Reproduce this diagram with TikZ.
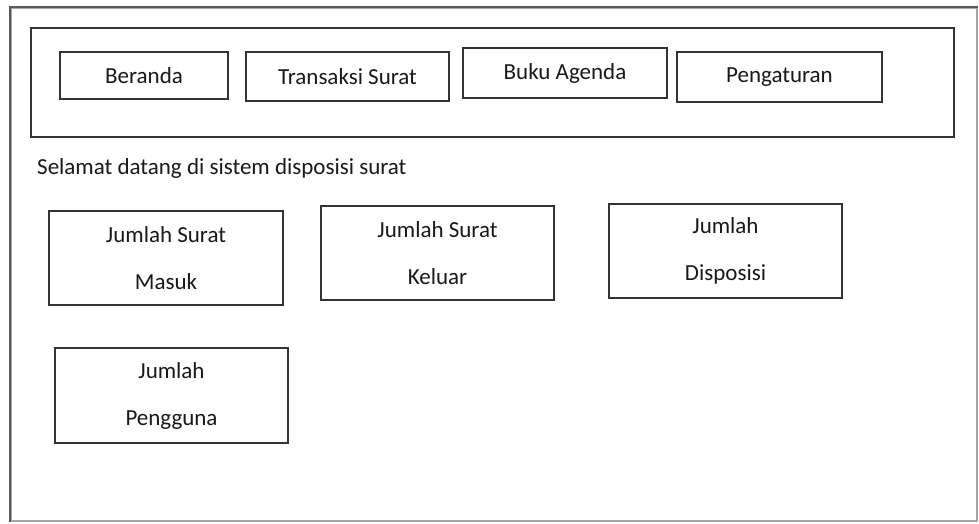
\documentclass[tikz,border=0pt]{standalone}
\usepackage{fontspec}
\setmainfont{Carlito}
\begin{document}
\begin{tikzpicture}[x=1pt,y=-1pt,
  every node/.style={inner sep=0pt, text=black!90},
  uifont/.style={font=\fontsize{23}{47}\selectfont},
  panel/.style={draw=black!80, line width=1.8pt, fill=white},
  button/.style={panel, uifont, align=center},
  card/.style={panel, uifont, align=center}]
  \useasboundingbox (0,0) rectangle (979,523);
  % outer screen frame: lighter on the right and bottom edges
  \node[draw=black!35, line width=1.6pt, minimum width=966pt, minimum height=513pt]
    (screen) at (494,264.5) {};
  \draw[black!65, line width=1.8pt] (screen.south west) -- (screen.north west) -- (screen.north east);
  % menu bar
  \node[panel, minimum width=923pt, minimum height=109pt] (menubar) at (492.5,82.5) {};
  \node[button, minimum width=168pt, minimum height=47pt] (beranda) at (144,75.5) {Beranda};
  \node[button, minimum width=203pt, minimum height=49pt] (transaksi) at (347.5,76.5) {Transaksi Surat};
  \node[button, minimum width=204pt, minimum height=50pt] (agenda) at (565,73) {Buku Agenda};
  \node[button, minimum width=205pt, minimum height=50pt] (pengaturan) at (779.5,77) {Pengaturan};
  % greeting
  \node[uifont, anchor=west] (welcome) at (37,168) {Selamat datang di sistem disposisi surat};
  % summary cards
  \node[card, minimum width=234pt, minimum height=94pt] (masuk) at (166,258) {Jumlah Surat\\Masuk};
  \node[card, minimum width=233pt, minimum height=94pt] (keluar) at (437.5,253) {Jumlah Surat\\Keluar};
  \node[card, minimum width=233pt, minimum height=94pt] (disposisi) at (725.5,251) {Jumlah\\Disposisi};
  \node[card, minimum width=233pt, minimum height=95pt] (pengguna) at (171.5,395.5) {Jumlah\\Pengguna};
\end{tikzpicture}
\end{document}
